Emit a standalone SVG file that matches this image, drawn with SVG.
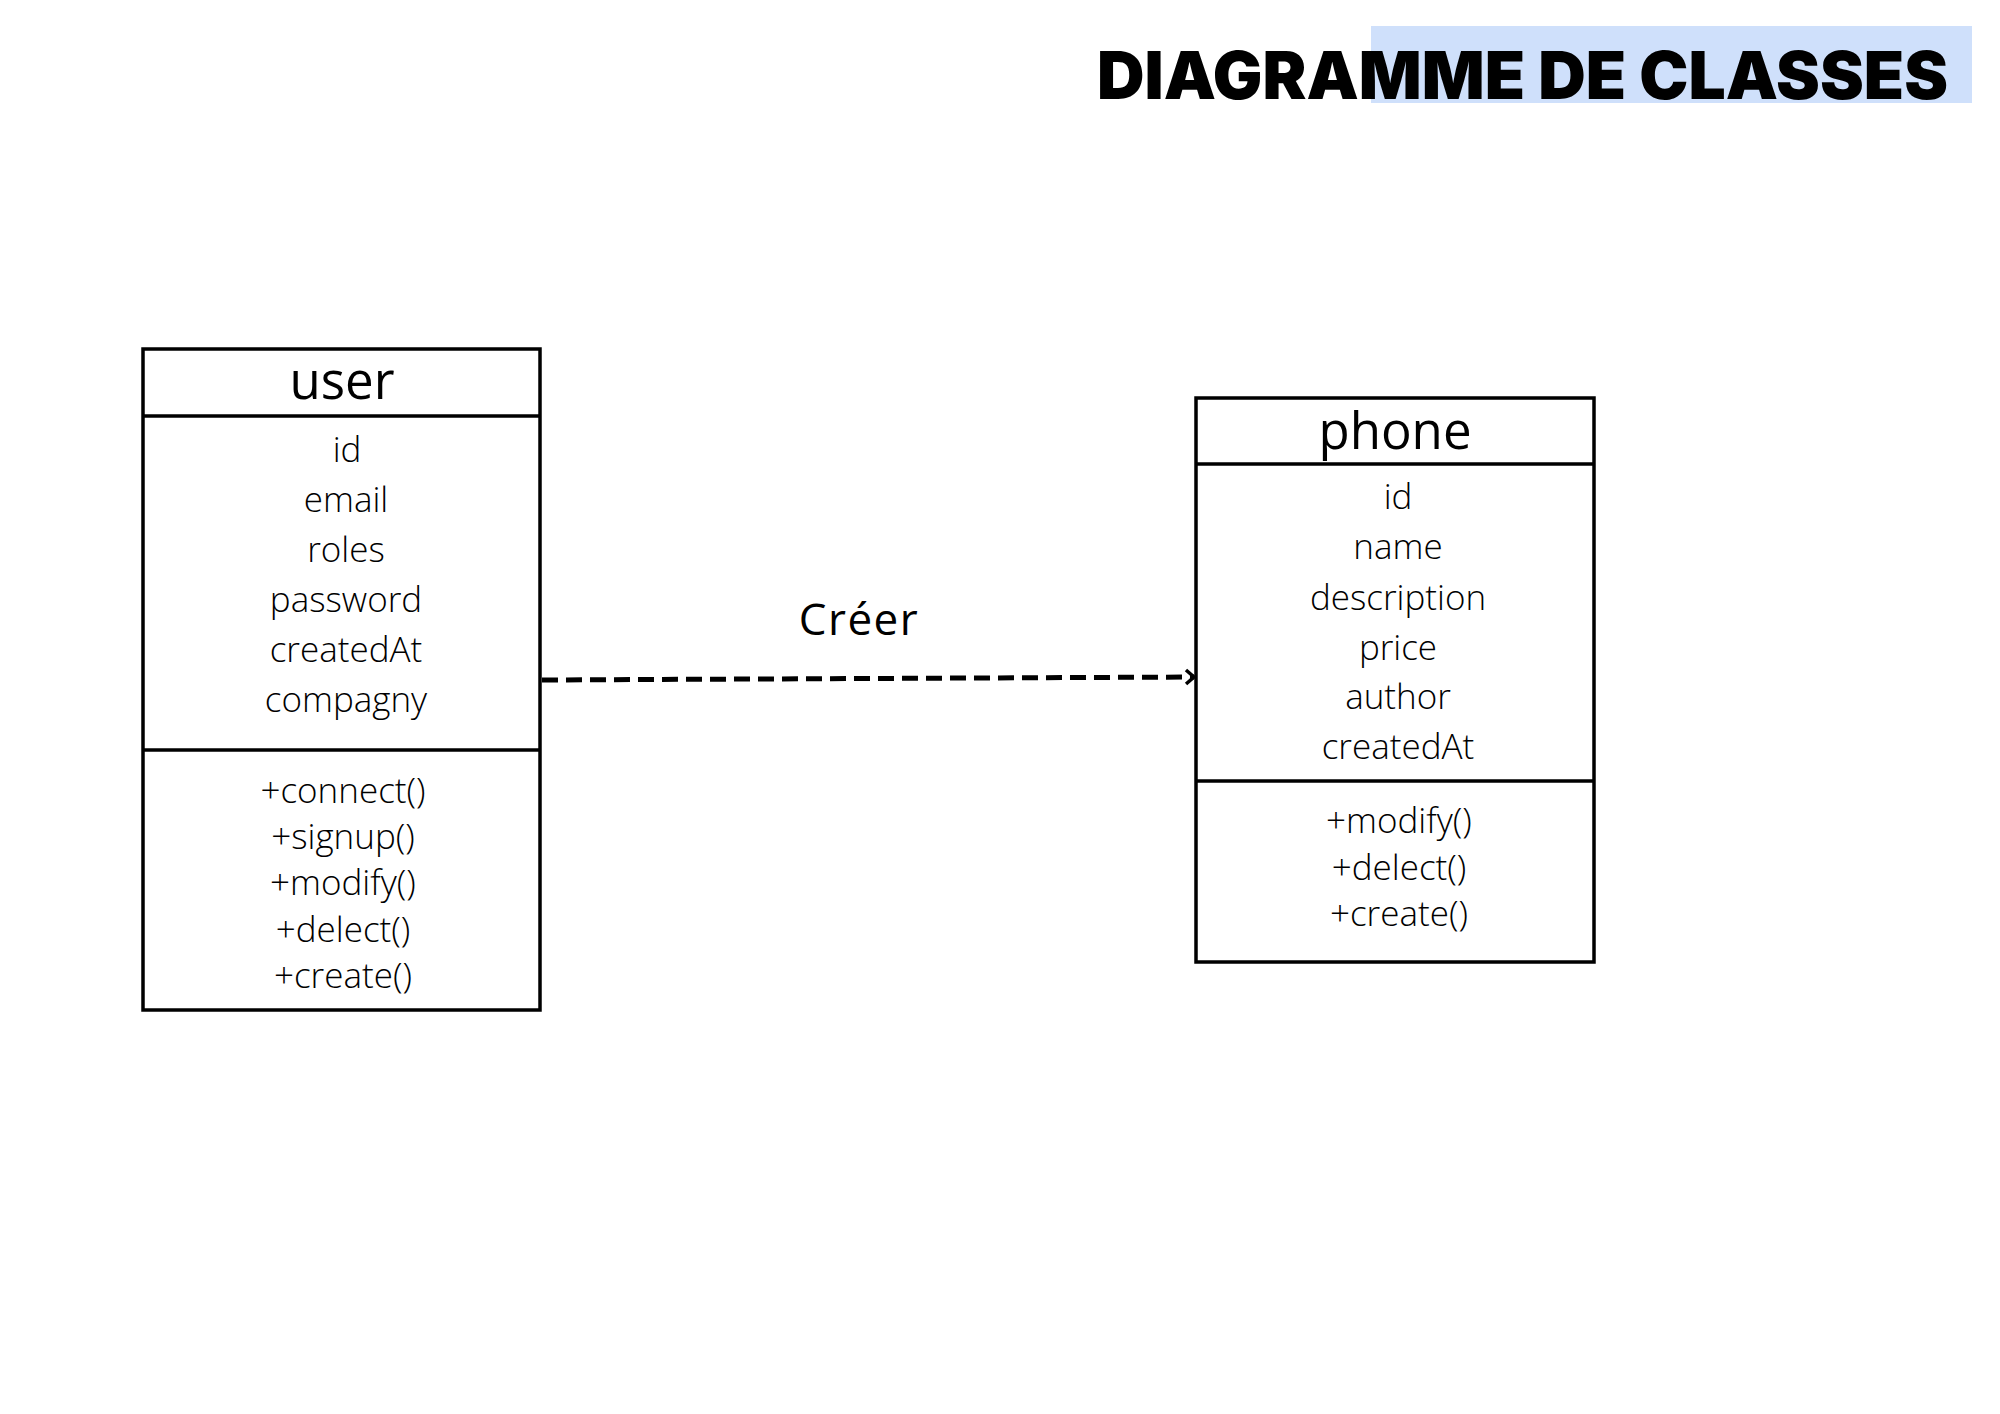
<svg xmlns="http://www.w3.org/2000/svg" width="2000" height="1414" viewBox="0 0 2000 1414">
<defs>
<style>
.box{fill:#fff;stroke:#000;stroke-width:3.5}
.div{stroke:#000;stroke-width:3.5}
.name{font-family:"Open Sans","Liberation Sans",sans-serif;font-size:51px;fill:#000;text-anchor:middle}
.attr{font-family:"Open Sans","Liberation Sans",sans-serif;font-weight:300;font-size:35px;fill:#000;text-anchor:middle}
.lbl{font-family:"Open Sans","Liberation Sans",sans-serif;font-weight:500;font-size:44px;fill:#000;text-anchor:middle;letter-spacing:1.5px}
.title{font-family:Inter,"Liberation Sans",sans-serif;font-weight:900;font-size:66px;fill:#000}
</style>
<marker id="arr" viewBox="0 0 14 20" refX="11" refY="10" markerWidth="14" markerHeight="20" markerUnits="userSpaceOnUse" orient="auto">
<path d="M3,3 L11,10 L3,17" fill="none" stroke="#000" stroke-width="3.5"/>
</marker>
</defs>
<rect width="2000" height="1414" fill="#fff"/>
<g id="title">
<rect x="1371" y="26" width="601" height="77" fill="#cfe0fb"/>
<text class="title" x="1097" y="99" textLength="851" lengthAdjust="spacingAndGlyphs">DIAGRAMME DE CLASSES</text>
</g>
<g id="connectors">
<line x1="542" y1="680" x2="1194" y2="677" stroke="#000" stroke-width="5" stroke-dasharray="16,8" marker-end="url(#arr)"/>
<text class="lbl" x="859" y="635">Créer</text>
</g>
<g id="user">
<rect class="box" x="143" y="349" width="397" height="661"/>
<line class="div" x1="143" y1="416" x2="540" y2="416"/>
<line class="div" x1="143" y1="750" x2="540" y2="750"/>
<text class="name" x="342" y="399">user</text>
<text class="attr" x="347" y="462">id</text>
<text class="attr" x="346" y="512">email</text>
<text class="attr" x="346" y="562">roles</text>
<text class="attr" x="346" y="612">password</text>
<text class="attr" x="346" y="662">createdAt</text>
<text class="attr" x="346" y="712">compagny</text>
<text class="attr" x="343" y="803">+connect()</text>
<text class="attr" x="343" y="849">+signup()</text>
<text class="attr" x="343" y="895">+modify()</text>
<text class="attr" x="343" y="942">+delect()</text>
<text class="attr" x="343" y="988">+create()</text>
</g>
<g id="phone">
<rect class="box" x="1196" y="398" width="398" height="564"/>
<line class="div" x1="1196" y1="464" x2="1594" y2="464"/>
<line class="div" x1="1196" y1="781" x2="1594" y2="781"/>
<text class="name" x="1395" y="449">phone</text>
<text class="attr" x="1398" y="509">id</text>
<text class="attr" x="1398" y="559">name</text>
<text class="attr" x="1398" y="610">description</text>
<text class="attr" x="1398" y="660">price</text>
<text class="attr" x="1398" y="709">author</text>
<text class="attr" x="1398" y="759">createdAt</text>
<text class="attr" x="1399" y="833">+modify()</text>
<text class="attr" x="1399" y="880">+delect()</text>
<text class="attr" x="1399" y="926">+create()</text>
</g>
</svg>
